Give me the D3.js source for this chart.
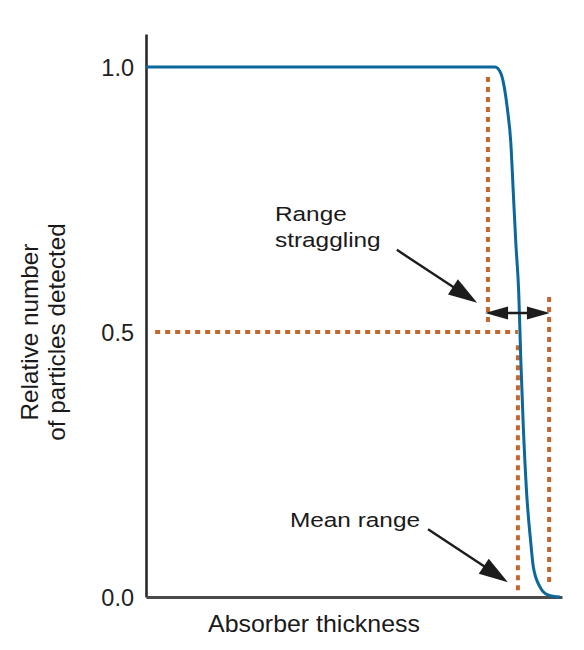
<!DOCTYPE html>
<html>
<head>
<meta charset="utf-8">
<script src="https://cdn.jsdelivr.net/npm/d3@7"></script>
<style>
  html, body { margin: 0; padding: 0; background: #fff; }
  svg { display: block; font-family: "Liberation Sans", Arial, Helvetica, sans-serif; }
</style>
</head>
<body>
<svg id="chart" width="584" height="650"></svg>
<script>
// ---- data (absorber thickness in arbitrary units 0..100, relative number 0..1) ----
const curveThickness = [0, 83.9, 85.3, 86.1, 86.9, 87.7, 88.3, 88.9, 89.6, 90.1, 90.7, 91.5, 92.5, 93.1, 94.7, 96.6, 99.5];
const curveFraction  = [1.0, 1.0, 0.988, 0.963, 0.919, 0.857, 0.762, 0.668, 0.574, 0.447, 0.321, 0.196, 0.102, 0.057, 0.019, 0.004, 0.0];
const yTickValues = [0, 0.5, 1.0];
const yTickLabels = ["0.0", "0.5", "1.0"];
const yAxisTop = 1.0623;      // axis line extends a bit above 1.0
const xAxisMax = 100;

// dotted guide lines: [x1, y1, x2, y2] in data units
const guideLines = [
  [2.2, 0.5, 89.4, 0.5],      // half-height line
  [82.2, 0.981, 82.2, 0.519], // start of straggling
  [89.4, 0.475, 89.4, 0.011], // mean range
  [96.9, 0.566, 96.9, 0.023]  // end of straggling
];
// double-headed straggling arrow
const straggleArrow = { x1: 81.5, x2: 97.1, y: 0.536 };
// pointer arrows: tail -> tip (data units)
const pointerArrows = [
  { x1: 60.3, y1: 0.655, x2: 79.6, y2: 0.555 },
  { x1: 67.8, y1: 0.128, x2: 87.0, y2: 0.028 }
];
// annotation labels
const labelTexts = ["Range", "straggling", "Mean range"];
const labelX = [31.0, 31.0, 34.6];
const labelY = [0.710, 0.661, 0.132];
const xAxisTitle = "Absorber thickness";
const yAxisTitle = ["Relative number", "of particles detected"];

// ---- drawing ----
const svg = d3.select("#chart");
const x = d3.scaleLinear().domain([0, xAxisMax]).range([146, 562]);
const y = d3.scaleLinear().domain([0, yAxisTop]).range([597, 34]);

const blue = "#0b679c";
const orange = "#c2682f";
const ink = "#1c1c1c";

// y axis
const yAxis = svg.append("g")
  .attr("transform", `translate(${x(0)},0)`)
  .call(d3.axisLeft(y).tickValues(yTickValues)
    .tickFormat((d, i) => yTickLabels[i]).tickSize(0).tickSizeOuter(0).tickPadding(12));
yAxis.select(".domain").attr("stroke", "#2a2a2a").attr("stroke-width", 2.6);
yAxis.selectAll("text").attr("font-size", 23.5).attr("fill", "#222")
  .attr("font-family", "Liberation Sans, Arial, sans-serif").attr("dy", "0.36em");

// x axis
const xAxis = svg.append("g")
  .attr("transform", `translate(0,${y(0)})`)
  .call(d3.axisBottom(x).tickValues([]).tickSizeOuter(0));
xAxis.select(".domain").attr("stroke", "#4a4a4a").attr("stroke-width", 3.2);

// dotted guide lines
svg.append("g").selectAll("line").data(guideLines).join("line")
  .attr("x1", d => x(d[0])).attr("y1", d => y(d[1]))
  .attr("x2", d => x(d[2])).attr("y2", d => y(d[3]))
  .attr("stroke", orange).attr("stroke-width", 4)
  .attr("stroke-dasharray", "5,5");

// transmission curve
const pts = curveThickness.map((t, i) => [t, curveFraction[i]]);
svg.append("path")
  .datum(pts)
  .attr("fill", "none")
  .attr("stroke", blue)
  .attr("stroke-width", 3)
  .attr("d", d3.line().x(d => x(d[0])).y(d => y(d[1])).curve(d3.curveMonotoneX));

// arrowhead helper
function head(tipX, tipY, fromX, fromY, len, half) {
  const a = Math.atan2(tipY - fromY, tipX - fromX);
  const bx = tipX - len * Math.cos(a), by = tipY - len * Math.sin(a);
  const nx = -Math.sin(a) * half, ny = Math.cos(a) * half;
  return `M${tipX},${tipY}L${bx + nx},${by + ny}L${bx - nx},${by - ny}Z`;
}

// straggling double arrow
const ay = y(straggleArrow.y), ax1 = x(straggleArrow.x1), ax2 = x(straggleArrow.x2);
svg.append("line").attr("x1", ax1 + 10).attr("x2", ax2 - 10).attr("y1", ay).attr("y2", ay)
  .attr("stroke", ink).attr("stroke-width", 2.5);
svg.append("path").attr("d", head(ax1, ay, ax2, ay, 23, 6.5)).attr("fill", ink);
svg.append("path").attr("d", head(ax2, ay, ax1, ay, 23, 6.5)).attr("fill", ink);

// pointer arrows
pointerArrows.forEach(p => {
  const X1 = x(p.x1), Y1 = y(p.y1), X2 = x(p.x2), Y2 = y(p.y2);
  const a = Math.atan2(Y2 - Y1, X2 - X1);
  svg.append("line").attr("x1", X1).attr("y1", Y1)
    .attr("x2", X2 - 20 * Math.cos(a)).attr("y2", Y2 - 20 * Math.sin(a))
    .attr("stroke", ink).attr("stroke-width", 2.4);
  svg.append("path").attr("d", head(X2, Y2, X1, Y1, 29, 9)).attr("fill", ink);
});

// annotation labels (glyphs slightly widened as in the original)
labelTexts.forEach((t, i) => {
  svg.append("text")
    .attr("transform", `translate(${x(labelX[i])},${y(labelY[i])}) scale(1.19,1)`)
    .attr("font-size", 20.5).attr("fill", "#1a1a1a").text(t);
});

// x axis title
svg.append("text")
  .attr("transform", `translate(314,632) scale(1.07,1)`)
  .attr("text-anchor", "middle").attr("font-size", 23.3).attr("fill", "#1a1a1a")
  .text(xAxisTitle);

// y axis title (two lines, rotated)
yAxisTitle.forEach((t, i) => {
  svg.append("text")
    .attr("transform", `translate(${38 + i * 27},${y(0.5)}) rotate(-90)`)
    .attr("text-anchor", "middle").attr("font-size", 24.3).attr("fill", "#1a1a1a")
    .text(t);
});
</script>
</body>
</html>
